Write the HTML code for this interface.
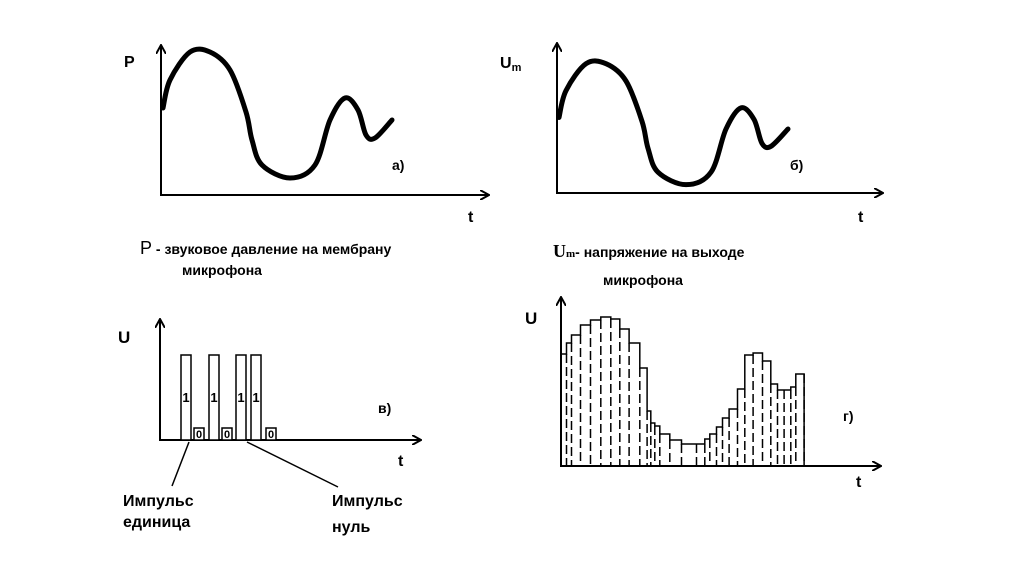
<!DOCTYPE html>
<html><head><meta charset="utf-8">
<style>
html,body{margin:0;padding:0;background:#fff;}
svg{display:block;}
text{font-family:"Liberation Sans",sans-serif;font-weight:bold;fill:#000;}
</style></head>
<body>
<svg id="chart" width="1024" height="574" viewBox="0 0 1024 574" xmlns="http://www.w3.org/2000/svg">
<defs>
<marker id="arr" markerWidth="10" markerHeight="10" refX="8" refY="5" orient="auto" markerUnits="userSpaceOnUse">
<path d="M0,0 L9,5 L0,10" fill="none" stroke="#000" stroke-width="2"/>
</marker>
</defs>
<g id="panelA">
<line x1="161" y1="196" x2="161" y2="46" stroke="#000" stroke-width="2" marker-end="url(#arr)"/>
<line x1="161" y1="195" x2="488" y2="195" stroke="#000" stroke-width="2" marker-end="url(#arr)"/>
<text x="124" y="67" font-family="Liberation Serif" font-size="16">P</text>
<text x="468" y="222" font-size="16">t</text>
<text x="392" y="170" font-size="14">а)</text>
</g>
<g id="panelB">
<line x1="557" y1="194" x2="557" y2="44" stroke="#000" stroke-width="2" marker-end="url(#arr)"/>
<line x1="557" y1="193" x2="882" y2="193" stroke="#000" stroke-width="2" marker-end="url(#arr)"/>
<text x="500" y="68" font-family="Liberation Serif" font-size="16">U<tspan font-size="11" dy="3">m</tspan></text>
<text x="858" y="222" font-size="16">t</text>
<text x="790" y="170" font-size="14">б)</text>
</g>
<text x="140" y="254" font-size="14"><tspan font-size="18" font-weight="normal">P</tspan> - звуковое давление на мембрану</text>
<text x="182" y="275" font-size="14">микрофона</text>
<text x="553" y="257" font-size="14"><tspan font-size="18" font-family="Liberation Serif">U</tspan><tspan font-size="11" font-family="Liberation Serif">m</tspan>- напряжение на выходе</text>
<text x="603" y="285" font-size="14">микрофона</text>

<g id="panelC">
<line x1="160" y1="441" x2="160" y2="320" stroke="#000" stroke-width="2" marker-end="url(#arr)"/>
<line x1="160" y1="440" x2="420" y2="440" stroke="#000" stroke-width="2" marker-end="url(#arr)"/>
<text x="118" y="343" font-family="Liberation Serif" font-size="17">U</text>
<text x="398" y="466" font-size="16">t</text>
<text x="378" y="413" font-size="14">в)</text>
<line x1="189" y1="442" x2="172" y2="486" stroke="#000" stroke-width="1.5"/>
<line x1="247" y1="442" x2="338" y2="487" stroke="#000" stroke-width="1.5"/>
<text x="123" y="506" font-size="16" font-weight="normal">Импульс</text>
<text x="123" y="527" font-size="16" font-weight="normal">единица</text>
<text x="332" y="506" font-size="16" font-weight="normal">Импульс</text>
<text x="332" y="532" font-size="16" font-weight="normal">нуль</text>
</g>

<g id="panelD">
<line x1="561" y1="467" x2="561" y2="298" stroke="#000" stroke-width="2" marker-end="url(#arr)"/>
<line x1="561" y1="466" x2="880" y2="466" stroke="#000" stroke-width="2" marker-end="url(#arr)"/>
<text x="525" y="324" font-family="Liberation Serif" font-size="17">U</text>
<text x="856" y="487" font-size="16">t</text>
<text x="843" y="421" font-size="14">г)</text>
</g>
</svg>
<script>
// Panel a curve (t, P) relative to axis origin
const curveT = [2,9,29,49,69,85,91,101,129,154,169,184,197,205,214,231];
const curveP = [87,115,143,143,125,83,55,30,17,30,75,97,85,60,57,75];
// Sampled signal (panel г): sample boundaries and heights
const sampleT = [0,5,10,19,29,39.3,49.3,58.3,67.6,78.3,85.6,89.3,93.3,98.3,108.3,120,135,143.3,148.3,155,161,167.6,176,183.3,191.6,201,209.3,216,222.6,229.3,234.3,242.6];
const sampleU = [112,123,131,141,146,149,147,137,123,98,55,43,40,32,26,22,22,27,32,39,48,57,77,111,113,105,82,76,76,79,92];
// Pulse code (panel в)
const pulseBits = [1,0,1,0,1,1,0];
const pulseT = [21,34,49,62,76,91,106];

const svg = document.getElementById('chart');
const NS = 'http://www.w3.org/2000/svg';
function mk(tag, attrs, parent){const e=document.createElementNS(NS,tag);for(const k in attrs)e.setAttribute(k,attrs[k]);parent.appendChild(e);return e;}

function curvePath(ox, oy, sy){
  const pts = curveT.map((t,i)=>[ox+t, oy - curveP[i]*sy]);
  let d = 'M'+pts[0][0]+','+pts[0][1];
  for(let i=1;i<pts.length;i++){
    const p0=pts[Math.max(i-2,0)],p1=pts[i-1],p2=pts[i],p3=pts[Math.min(i+1,pts.length-1)];
    const c1=[p1[0]+(p2[0]-p0[0])/6,p1[1]+(p2[1]-p0[1])/6];
    const c2=[p2[0]-(p3[0]-p1[0])/6,p2[1]-(p3[1]-p1[1])/6];
    d+=' C'+c1+' '+c2+' '+p2;
  }
  return d;
}
const ca = mk('path',{d:curvePath(161,195,1),fill:'none',stroke:'#000','stroke-width':5,'stroke-linecap':'round'},document.getElementById('panelA'));


const cb = mk('path',{d:curvePath(557,201,0.96),fill:'none',stroke:'#000','stroke-width':5,'stroke-linecap':'round'},document.getElementById('panelB'));



// Panel г
const gD = document.getElementById('panelD');
const dx = t => 561.5 + t;
const dy = u => 466 - u;
let sd = 'M'+dx(sampleT[0])+','+dy(sampleU[0]);
for(let i=0;i<sampleU.length;i++){
  sd += ' L'+dx(sampleT[i+1])+','+dy(sampleU[i]);
  if(i+1<sampleU.length) sd += ' L'+dx(sampleT[i+1])+','+dy(sampleU[i+1]);
}
sd += ' L'+dx(sampleT[sampleT.length-1])+','+dy(0);
const st = mk('path',{d:sd,fill:'none',stroke:'#000','stroke-width':1.5},gD);


for(let i=1;i<sampleT.length;i++){
  const top = Math.min(sampleU[i-1], sampleU[Math.min(i,sampleU.length-1)]);
  const l = mk('line',{x1:dx(sampleT[i]),y1:dy(top),x2:dx(sampleT[i]),y2:dy(0),stroke:'#000','stroke-width':1.5,'stroke-dasharray':'9,4'},gD);
  
  
}

// Panel в
const gC = document.getElementById('panelC');
pulseBits.forEach((b,i)=>{
  const x = 160 + pulseT[i];
  const h = b ? 85 : 12;
  const w = 10;
  const r = mk('rect',{x:x,y:440-h,width:w,height:h,fill:'#fff',stroke:'#000','stroke-width':1.5},gC);
  
  
  const t = mk('text',{x:x+w/2,y:b?402:438,'text-anchor':'middle','font-size':b?13:11,'font-weight':'normal'},gC);
  t.textContent = String(b);
  
  
});
</script>
</body></html>
